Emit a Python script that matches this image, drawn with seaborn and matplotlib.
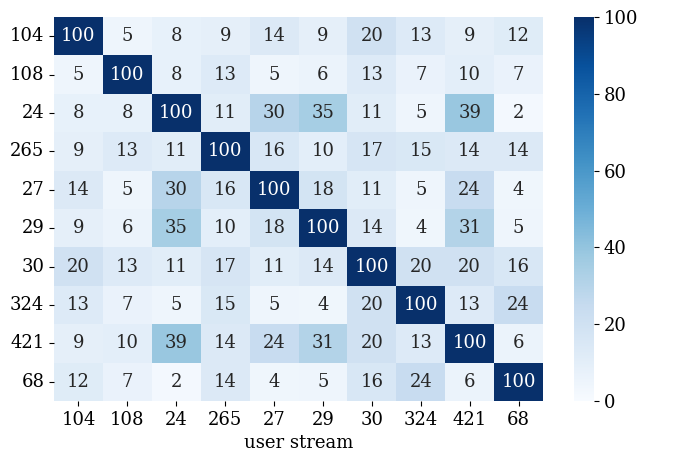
import numpy as np
import pandas as pd
import matplotlib
matplotlib.use("Agg")
import matplotlib.pyplot as plt
import seaborn as sns

labels = ["104", "108", "24", "265", "27", "29", "30", "324", "421", "68"]

row_104 = [100, 5, 8, 9, 14, 9, 20, 13, 9, 12]
row_108 = [5, 100, 8, 13, 5, 6, 13, 7, 10, 7]
row_24 = [8, 8, 100, 11, 30, 35, 11, 5, 39, 2]
row_265 = [9, 13, 11, 100, 16, 10, 17, 15, 14, 14]
row_27 = [14, 5, 30, 16, 100, 18, 11, 5, 24, 4]
row_29 = [9, 6, 35, 10, 18, 100, 14, 4, 31, 5]
row_30 = [20, 13, 11, 17, 11, 14, 100, 20, 20, 16]
row_324 = [13, 7, 5, 15, 5, 4, 20, 100, 13, 24]
row_421 = [9, 10, 39, 14, 24, 31, 20, 13, 100, 6]
row_68 = [12, 7, 2, 14, 4, 5, 16, 24, 6, 100]

data = pd.DataFrame(
    [row_104, row_108, row_24, row_265, row_27, row_29, row_30, row_324, row_421, row_68],
    index=labels, columns=labels,
)

plt.rcParams["font.family"] = ["DejaVu Serif"]
plt.rcParams["font.size"] = 13

fig = plt.figure(figsize=(6.85, 4.63), dpi=100)
W, H = 685, 463
ax = fig.add_axes([54 / W, (H - 401) / H, 489 / W, 384 / H])
cax = fig.add_axes([574 / W, (H - 401) / H, 20 / W, 384 / H])

sns.heatmap(data, annot=True, fmt="d", cmap="Blues", vmin=0, vmax=100,
            ax=ax, cbar_ax=cax, annot_kws={"size": 13})
ax.set_xlabel("user stream", fontsize=13)
ax.set_ylabel("")
ax.tick_params(axis="y", rotation=0)
ax.tick_params(axis="x", rotation=0)
plt.savefig("out.png", dpi=100)
